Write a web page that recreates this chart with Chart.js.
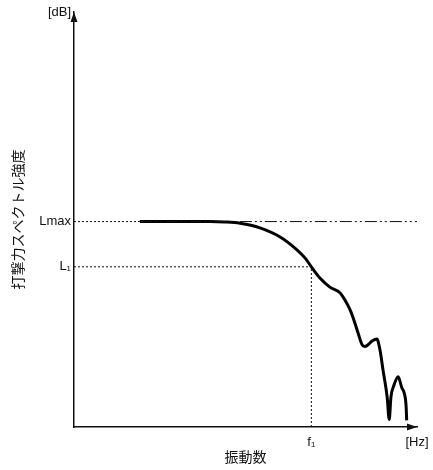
<!DOCTYPE html>
<html>
<head>
<meta charset="utf-8">
<script src="https://cdn.jsdelivr.net/npm/chart.js@4/dist/chart.umd.min.js"></script>
<style>
  html, body { margin: 0; padding: 0; background: #fff; }
  #wrap { width: 433px; height: 470px; }
</style>
</head>
<body>
<div id="wrap"><canvas id="c" width="433" height="470"></canvas></div>
<script>
// Impact force spectrum: level vs. frequency (relative units)
const freq  = [19.2, 30.9, 39.7, 44.0, 48.4, 54.2, 60.1, 65.0, 67.4, 69.2, 71.7, 74.6, 77.6, 79.0, 80.5, 81.3, 82.8, 84.0, 84.8, 85.7, 86.9, 88.3, 89.2, 90.1, 91.3, 91.9, 92.4, 93.3, 94.5, 95.6, 96.2, 96.8, 97.0];
const level = [49.5, 49.5, 49.5, 49.4, 49.1, 48.0, 45.8, 42.7, 40.7, 38.6, 35.9, 33.7, 32.3, 30.6, 28.2, 26.5, 22.7, 19.8, 19.4, 19.8, 20.7, 21.2, 18.6, 13.7, 7.2, 1.8, 7.2, 10.1, 12.1, 9.4, 8.4, 5.3, 1.6];

// Reference levels / frequency
const Lmax = 49.5;
const L1 = 38.6;
const f1 = 69.2;
const axisMax = 100;

const xTickValues = [f1, axisMax];
const xTickLabels = ['f\u2081', '[Hz]'];
const yTickValues = [L1, Lmax, axisMax];
const yTickLabels = ['L\u2081', 'Lmax', '[dB]'];

const yTitle = '打撃力スペクトル強度';
const xTitle = '振動数';

const latin = '"Liberation Sans", Arial, "Noto Sans CJK JP", sans-serif';
const cjk = '"Noto Sans CJK JP", "Liberation Sans", sans-serif';

const spectrum = freq.map((f, i) => ({ x: f, y: level[i] }));

// Arrowheads at the ends of both axes
const axisArrows = {
  id: 'axisArrows',
  afterDraw(chart) {
    const { ctx, scales: { x, y } } = chart;
    const x0 = x.getPixelForValue(0), xEnd = x.getPixelForValue(axisMax);
    const y0 = y.getPixelForValue(0), yEnd = y.getPixelForValue(axisMax);
    ctx.save();
    ctx.fillStyle = '#111';
    ctx.beginPath();
    ctx.moveTo(x0, yEnd);
    ctx.lineTo(x0 - 3.5, yEnd + 10);
    ctx.lineTo(x0 + 3.5, yEnd + 10);
    ctx.closePath();
    ctx.fill();
    ctx.beginPath();
    ctx.moveTo(xEnd, y0);
    ctx.lineTo(xEnd - 10, y0 - 3.5);
    ctx.lineTo(xEnd - 10, y0 + 3.5);
    ctx.closePath();
    ctx.fill();
    ctx.restore();
  }
};

const thin = { borderColor: '#111', borderWidth: 1, pointRadius: 0, fill: false, tension: 0 };

new Chart(document.getElementById('c'), {
  type: 'line',
  data: {
    datasets: [
      Object.assign({ data: [{ x: 0, y: Lmax }, { x: freq[0], y: Lmax }], borderDash: [2, 2] }, thin),
      Object.assign({ data: [{ x: freq[0], y: Lmax }, { x: axisMax, y: Lmax }], borderDash: [12, 3, 2, 3, 2, 3] }, thin),
      Object.assign({ data: [{ x: 0, y: L1 }, { x: f1, y: L1 }], borderDash: [2, 2] }, thin),
      Object.assign({ data: [{ x: f1, y: 0 }, { x: f1, y: L1 }], borderDash: [2, 2] }, thin),
      {
        data: spectrum,
        borderColor: '#000',
        borderWidth: 3,
        pointRadius: 0,
        fill: false,
        cubicInterpolationMode: 'monotone',
        borderJoinStyle: 'round'
      }
    ]
  },
  options: {
    responsive: false,
    animation: false,
    events: [],
    layout: { padding: { top: 12, right: 16, bottom: 0, left: 0 } },
    plugins: { legend: { display: false }, tooltip: { enabled: false } },
    scales: {
      x: {
        type: 'linear',
        min: 0,
        max: axisMax,
        grid: { display: false, drawTicks: false },
        border: { display: true, color: '#111', width: 1.5 },
        afterBuildTicks: s => { s.ticks = xTickValues.map(v => ({ value: v })); },
        afterFit: s => { s.height = 43; s.paddingLeft = 0; s.paddingRight = 0; },
        ticks: {
          autoSkip: false,
          maxRotation: 0,
          padding: 8,
          color: '#111',
          font: { family: latin, size: 13 },
          callback: v => xTickLabels[xTickValues.indexOf(v)]
        },
        title: {
          display: true,
          text: xTitle,
          color: '#111',
          font: { family: cjk, size: 14 },
          padding: { top: 0, bottom: 5 }
        }
      },
      y: {
        type: 'linear',
        min: 0,
        max: axisMax,
        grid: { display: false, drawTicks: false },
        border: { display: true, color: '#111', width: 1.5 },
        afterBuildTicks: s => { s.ticks = yTickValues.map(v => ({ value: v })); },
        afterFit: s => { s.width = 74; s.paddingTop = 0; s.paddingBottom = 0; },
        ticks: {
          autoSkip: false,
          padding: 3,
          color: '#111',
          font: { family: latin, size: 13 },
          callback: v => yTickLabels[yTickValues.indexOf(v)]
        },
        title: {
          display: true,
          text: yTitle,
          color: '#111',
          font: { family: cjk, size: 14 },
          padding: { top: 9, bottom: 0 }
        }
      }
    }
  },
  plugins: [axisArrows]
});
</script>
</body>
</html>
